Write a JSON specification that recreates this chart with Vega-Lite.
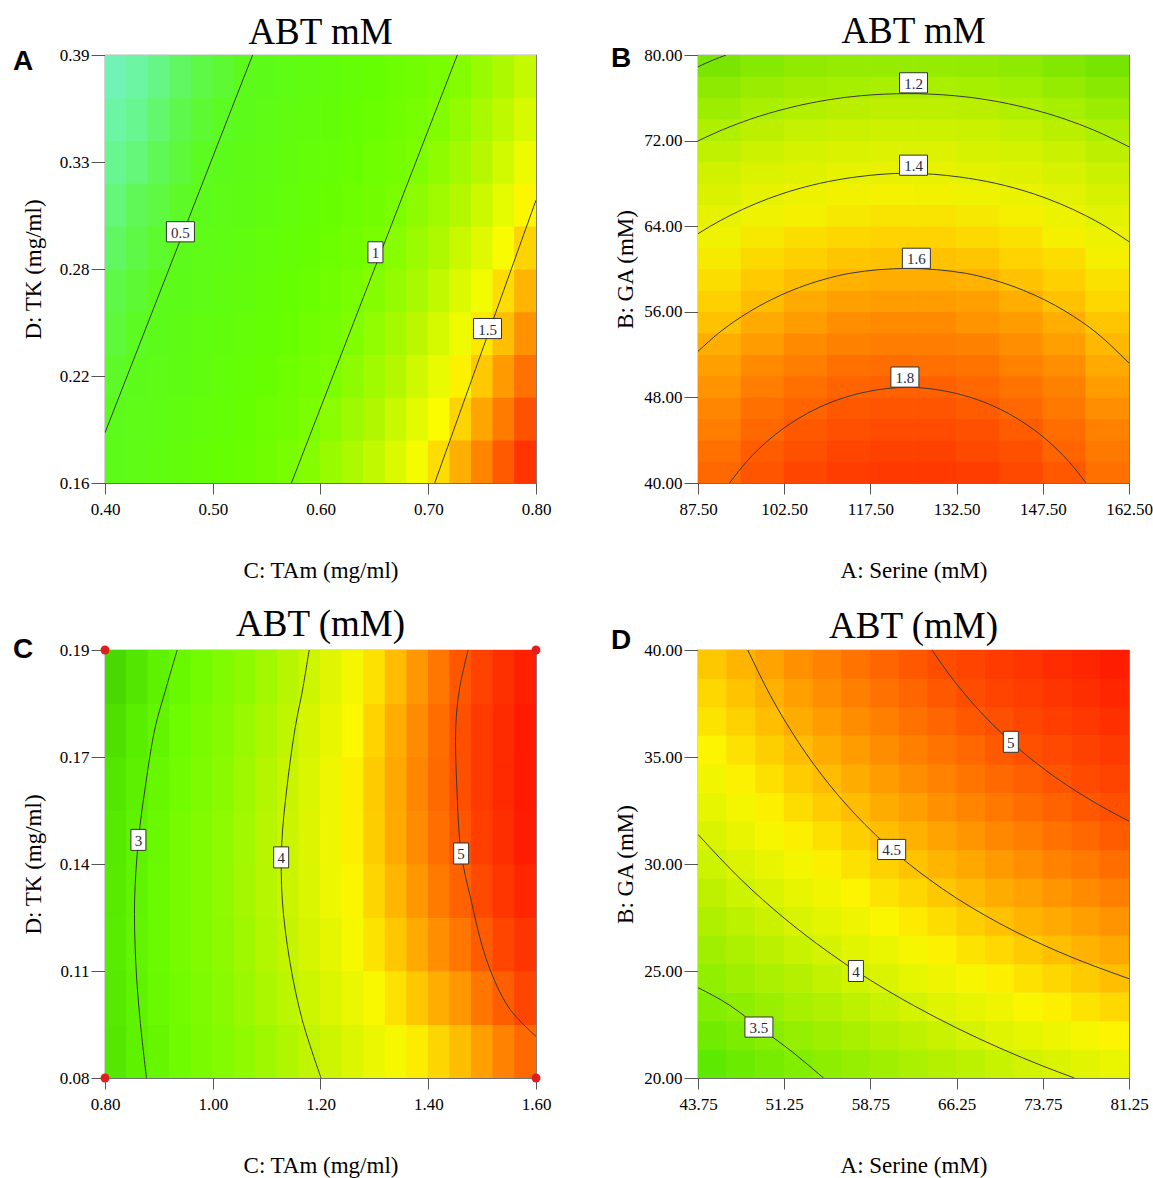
{
"$schema": "https://vega.github.io/schema/vega-lite/v6.json",
"background": "white",
"padding": {"left": 12, "top": 12, "right": 2, "bottom": 2},
"spacing": 22,
"config": {
 "view": {"stroke": "#707070", "strokeWidth": 1.2},
 "axis": {"labelFont": "Liberation Serif", "labelFontSize": 17, "labelColor": "#000", "titleFont": "Liberation Serif", "titleFontSize": 23, "titleFontWeight": "normal", "titleColor": "#000", "tickColor": "#555", "tickWidth": 1, "domain": false, "grid": false, "labelFlush": false, "labelOverlap": false},
 "title": {"font": "Liberation Serif", "fontSize": 37, "fontWeight": "normal", "color": "#000", "offset": -6, "anchor": "middle"}
},
"resolve": {"scale": {"x": "independent", "y": "independent", "color": "independent"}},
"datasets": {
 "aH": [
{"x":0.41,"y":0.1715,"z":0.54},{"x":0.43,"y":0.1715,"z":0.58},{"x":0.45,"y":0.1715,"z":0.63},{"x":0.47,"y":0.1715,"z":0.68},{"x":0.49,"y":0.1715,"z":0.73},{"x":0.51,"y":0.1715,"z":0.78},{"x":0.53,"y":0.1715,"z":0.84},{"x":0.55,"y":0.1715,"z":0.90},{"x":0.57,"y":0.1715,"z":0.96},{"x":0.59,"y":0.1715,"z":1.03},{"x":0.61,"y":0.1715,"z":1.10},{"x":0.63,"y":0.1715,"z":1.17},{"x":0.65,"y":0.1715,"z":1.24},{"x":0.67,"y":0.1715,"z":1.32},{"x":0.69,"y":0.1715,"z":1.40},{"x":0.71,"y":0.1715,"z":1.48},{"x":0.73,"y":0.1715,"z":1.57},{"x":0.75,"y":0.1715,"z":1.66},{"x":0.77,"y":0.1715,"z":1.75},{"x":0.79,"y":0.1715,"z":1.84},
{"x":0.41,"y":0.1945,"z":0.51},{"x":0.43,"y":0.1945,"z":0.55},{"x":0.45,"y":0.1945,"z":0.59},{"x":0.47,"y":0.1945,"z":0.64},{"x":0.49,"y":0.1945,"z":0.69},{"x":0.51,"y":0.1945,"z":0.74},{"x":0.53,"y":0.1945,"z":0.80},{"x":0.55,"y":0.1945,"z":0.86},{"x":0.57,"y":0.1945,"z":0.92},{"x":0.59,"y":0.1945,"z":0.98},{"x":0.61,"y":0.1945,"z":1.05},{"x":0.63,"y":0.1945,"z":1.12},{"x":0.65,"y":0.1945,"z":1.19},{"x":0.67,"y":0.1945,"z":1.26},{"x":0.69,"y":0.1945,"z":1.34},{"x":0.71,"y":0.1945,"z":1.42},{"x":0.73,"y":0.1945,"z":1.50},{"x":0.75,"y":0.1945,"z":1.59},{"x":0.77,"y":0.1945,"z":1.68},{"x":0.79,"y":0.1945,"z":1.77},
{"x":0.41,"y":0.2175,"z":0.48},{"x":0.43,"y":0.2175,"z":0.52},{"x":0.45,"y":0.2175,"z":0.56},{"x":0.47,"y":0.2175,"z":0.60},{"x":0.49,"y":0.2175,"z":0.65},{"x":0.51,"y":0.2175,"z":0.70},{"x":0.53,"y":0.2175,"z":0.75},{"x":0.55,"y":0.2175,"z":0.81},{"x":0.57,"y":0.2175,"z":0.87},{"x":0.59,"y":0.2175,"z":0.93},{"x":0.61,"y":0.2175,"z":0.99},{"x":0.63,"y":0.2175,"z":1.06},{"x":0.65,"y":0.2175,"z":1.13},{"x":0.67,"y":0.2175,"z":1.20},{"x":0.69,"y":0.2175,"z":1.28},{"x":0.71,"y":0.2175,"z":1.36},{"x":0.73,"y":0.2175,"z":1.44},{"x":0.75,"y":0.2175,"z":1.52},{"x":0.77,"y":0.2175,"z":1.61},{"x":0.79,"y":0.2175,"z":1.70},
{"x":0.41,"y":0.2405,"z":0.45},{"x":0.43,"y":0.2405,"z":0.49},{"x":0.45,"y":0.2405,"z":0.53},{"x":0.47,"y":0.2405,"z":0.57},{"x":0.49,"y":0.2405,"z":0.62},{"x":0.51,"y":0.2405,"z":0.66},{"x":0.53,"y":0.2405,"z":0.71},{"x":0.55,"y":0.2405,"z":0.77},{"x":0.57,"y":0.2405,"z":0.82},{"x":0.59,"y":0.2405,"z":0.88},{"x":0.61,"y":0.2405,"z":0.94},{"x":0.63,"y":0.2405,"z":1.01},{"x":0.65,"y":0.2405,"z":1.08},{"x":0.67,"y":0.2405,"z":1.15},{"x":0.69,"y":0.2405,"z":1.22},{"x":0.71,"y":0.2405,"z":1.30},{"x":0.73,"y":0.2405,"z":1.38},{"x":0.75,"y":0.2405,"z":1.46},{"x":0.77,"y":0.2405,"z":1.54},{"x":0.79,"y":0.2405,"z":1.63},
{"x":0.41,"y":0.2635,"z":0.43},{"x":0.43,"y":0.2635,"z":0.46},{"x":0.45,"y":0.2635,"z":0.50},{"x":0.47,"y":0.2635,"z":0.54},{"x":0.49,"y":0.2635,"z":0.58},{"x":0.51,"y":0.2635,"z":0.63},{"x":0.53,"y":0.2635,"z":0.67},{"x":0.55,"y":0.2635,"z":0.73},{"x":0.57,"y":0.2635,"z":0.78},{"x":0.59,"y":0.2635,"z":0.84},{"x":0.61,"y":0.2635,"z":0.90},{"x":0.63,"y":0.2635,"z":0.96},{"x":0.65,"y":0.2635,"z":1.03},{"x":0.67,"y":0.2635,"z":1.09},{"x":0.69,"y":0.2635,"z":1.16},{"x":0.71,"y":0.2635,"z":1.24},{"x":0.73,"y":0.2635,"z":1.32},{"x":0.75,"y":0.2635,"z":1.39},{"x":0.77,"y":0.2635,"z":1.48},{"x":0.79,"y":0.2635,"z":1.56},
{"x":0.41,"y":0.2865,"z":0.40},{"x":0.43,"y":0.2865,"z":0.43},{"x":0.45,"y":0.2865,"z":0.47},{"x":0.47,"y":0.2865,"z":0.51},{"x":0.49,"y":0.2865,"z":0.55},{"x":0.51,"y":0.2865,"z":0.59},{"x":0.53,"y":0.2865,"z":0.64},{"x":0.55,"y":0.2865,"z":0.69},{"x":0.57,"y":0.2865,"z":0.74},{"x":0.59,"y":0.2865,"z":0.79},{"x":0.61,"y":0.2865,"z":0.85},{"x":0.63,"y":0.2865,"z":0.91},{"x":0.65,"y":0.2865,"z":0.97},{"x":0.67,"y":0.2865,"z":1.04},{"x":0.69,"y":0.2865,"z":1.11},{"x":0.71,"y":0.2865,"z":1.18},{"x":0.73,"y":0.2865,"z":1.26},{"x":0.75,"y":0.2865,"z":1.33},{"x":0.77,"y":0.2865,"z":1.41},{"x":0.79,"y":0.2865,"z":1.50},
{"x":0.41,"y":0.3095,"z":0.38},{"x":0.43,"y":0.3095,"z":0.41},{"x":0.45,"y":0.3095,"z":0.44},{"x":0.47,"y":0.3095,"z":0.48},{"x":0.49,"y":0.3095,"z":0.51},{"x":0.51,"y":0.3095,"z":0.56},{"x":0.53,"y":0.3095,"z":0.60},{"x":0.55,"y":0.3095,"z":0.65},{"x":0.57,"y":0.3095,"z":0.70},{"x":0.59,"y":0.3095,"z":0.75},{"x":0.61,"y":0.3095,"z":0.81},{"x":0.63,"y":0.3095,"z":0.86},{"x":0.65,"y":0.3095,"z":0.92},{"x":0.67,"y":0.3095,"z":0.99},{"x":0.69,"y":0.3095,"z":1.06},{"x":0.71,"y":0.3095,"z":1.13},{"x":0.73,"y":0.3095,"z":1.20},{"x":0.75,"y":0.3095,"z":1.27},{"x":0.77,"y":0.3095,"z":1.35},{"x":0.79,"y":0.3095,"z":1.43},
{"x":0.41,"y":0.3325,"z":0.36},{"x":0.43,"y":0.3325,"z":0.38},{"x":0.45,"y":0.3325,"z":0.41},{"x":0.47,"y":0.3325,"z":0.45},{"x":0.49,"y":0.3325,"z":0.49},{"x":0.51,"y":0.3325,"z":0.52},{"x":0.53,"y":0.3325,"z":0.57},{"x":0.55,"y":0.3325,"z":0.61},{"x":0.57,"y":0.3325,"z":0.66},{"x":0.59,"y":0.3325,"z":0.71},{"x":0.61,"y":0.3325,"z":0.76},{"x":0.63,"y":0.3325,"z":0.82},{"x":0.65,"y":0.3325,"z":0.88},{"x":0.67,"y":0.3325,"z":0.94},{"x":0.69,"y":0.3325,"z":1.00},{"x":0.71,"y":0.3325,"z":1.07},{"x":0.73,"y":0.3325,"z":1.14},{"x":0.75,"y":0.3325,"z":1.21},{"x":0.77,"y":0.3325,"z":1.29},{"x":0.79,"y":0.3325,"z":1.37},
{"x":0.41,"y":0.3555,"z":0.34},{"x":0.43,"y":0.3555,"z":0.36},{"x":0.45,"y":0.3555,"z":0.39},{"x":0.47,"y":0.3555,"z":0.42},{"x":0.49,"y":0.3555,"z":0.46},{"x":0.51,"y":0.3555,"z":0.49},{"x":0.53,"y":0.3555,"z":0.53},{"x":0.55,"y":0.3555,"z":0.58},{"x":0.57,"y":0.3555,"z":0.62},{"x":0.59,"y":0.3555,"z":0.67},{"x":0.61,"y":0.3555,"z":0.72},{"x":0.63,"y":0.3555,"z":0.78},{"x":0.65,"y":0.3555,"z":0.83},{"x":0.67,"y":0.3555,"z":0.89},{"x":0.69,"y":0.3555,"z":0.95},{"x":0.71,"y":0.3555,"z":1.02},{"x":0.73,"y":0.3555,"z":1.09},{"x":0.75,"y":0.3555,"z":1.16},{"x":0.77,"y":0.3555,"z":1.23},{"x":0.79,"y":0.3555,"z":1.31},
{"x":0.41,"y":0.3785,"z":0.32},{"x":0.43,"y":0.3785,"z":0.34},{"x":0.45,"y":0.3785,"z":0.37},{"x":0.47,"y":0.3785,"z":0.40},{"x":0.49,"y":0.3785,"z":0.43},{"x":0.51,"y":0.3785,"z":0.46},{"x":0.53,"y":0.3785,"z":0.50},{"x":0.55,"y":0.3785,"z":0.54},{"x":0.57,"y":0.3785,"z":0.59},{"x":0.59,"y":0.3785,"z":0.63},{"x":0.61,"y":0.3785,"z":0.68},{"x":0.63,"y":0.3785,"z":0.73},{"x":0.65,"y":0.3785,"z":0.79},{"x":0.67,"y":0.3785,"z":0.85},{"x":0.69,"y":0.3785,"z":0.91},{"x":0.71,"y":0.3785,"z":0.97},{"x":0.73,"y":0.3785,"z":1.03},{"x":0.75,"y":0.3785,"z":1.10},{"x":0.77,"y":0.3785,"z":1.17},{"x":0.79,"y":0.3785,"z":1.25}
 ],
 "aL": [
{"c":0.5,"x":0.4,"y":0.187},{"c":0.5,"x":0.537,"y":0.39},
{"c":1,"x":0.573,"y":0.16},{"c":1,"x":0.727,"y":0.39},
{"c":1.5,"x":0.706,"y":0.16},{"c":1.5,"x":0.8,"y":0.312}
 ],
 "aT": [
{"t":"0.5","x":0.47,"y":0.295},{"t":"1","x":0.651,"y":0.284},{"t":"1.5","x":0.755,"y":0.243}
 ],
 "aP": [
{"p":"A","x":0.324,"y":0.386}
 ],
 "bH": [
{"x":91.25,"y":41,"z":1.78},{"x":98.75,"y":41,"z":1.83},{"x":106.25,"y":41,"z":1.87},{"x":113.75,"y":41,"z":1.89},{"x":121.25,"y":41,"z":1.90},{"x":128.75,"y":41,"z":1.90},{"x":136.25,"y":41,"z":1.89},{"x":143.75,"y":41,"z":1.86},{"x":151.25,"y":41,"z":1.82},{"x":158.75,"y":41,"z":1.76},
{"x":91.25,"y":43,"z":1.76},{"x":98.75,"y":43,"z":1.81},{"x":106.25,"y":43,"z":1.84},{"x":113.75,"y":43,"z":1.87},{"x":121.25,"y":43,"z":1.88},{"x":128.75,"y":43,"z":1.88},{"x":136.25,"y":43,"z":1.86},{"x":143.75,"y":43,"z":1.84},{"x":151.25,"y":43,"z":1.79},{"x":158.75,"y":43,"z":1.74},
{"x":91.25,"y":45,"z":1.73},{"x":98.75,"y":45,"z":1.78},{"x":106.25,"y":45,"z":1.82},{"x":113.75,"y":45,"z":1.84},{"x":121.25,"y":45,"z":1.85},{"x":128.75,"y":45,"z":1.85},{"x":136.25,"y":45,"z":1.84},{"x":143.75,"y":45,"z":1.81},{"x":151.25,"y":45,"z":1.77},{"x":158.75,"y":45,"z":1.72},
{"x":91.25,"y":47,"z":1.71},{"x":98.75,"y":47,"z":1.76},{"x":106.25,"y":47,"z":1.79},{"x":113.75,"y":47,"z":1.82},{"x":121.25,"y":47,"z":1.83},{"x":128.75,"y":47,"z":1.83},{"x":136.25,"y":47,"z":1.81},{"x":143.75,"y":47,"z":1.78},{"x":151.25,"y":47,"z":1.74},{"x":158.75,"y":47,"z":1.69},
{"x":91.25,"y":49,"z":1.68},{"x":98.75,"y":49,"z":1.73},{"x":106.25,"y":49,"z":1.76},{"x":113.75,"y":49,"z":1.79},{"x":121.25,"y":49,"z":1.80},{"x":128.75,"y":49,"z":1.80},{"x":136.25,"y":49,"z":1.78},{"x":143.75,"y":49,"z":1.75},{"x":151.25,"y":49,"z":1.72},{"x":158.75,"y":49,"z":1.66},
{"x":91.25,"y":51,"z":1.65},{"x":98.75,"y":51,"z":1.70},{"x":106.25,"y":51,"z":1.73},{"x":113.75,"y":51,"z":1.76},{"x":121.25,"y":51,"z":1.77},{"x":128.75,"y":51,"z":1.76},{"x":136.25,"y":51,"z":1.75},{"x":143.75,"y":51,"z":1.72},{"x":151.25,"y":51,"z":1.69},{"x":158.75,"y":51,"z":1.63},
{"x":91.25,"y":53,"z":1.62},{"x":98.75,"y":53,"z":1.66},{"x":106.25,"y":53,"z":1.70},{"x":113.75,"y":53,"z":1.72},{"x":121.25,"y":53,"z":1.73},{"x":128.75,"y":53,"z":1.73},{"x":136.25,"y":53,"z":1.72},{"x":143.75,"y":53,"z":1.69},{"x":151.25,"y":53,"z":1.65},{"x":158.75,"y":53,"z":1.60},
{"x":91.25,"y":55,"z":1.58},{"x":98.75,"y":55,"z":1.63},{"x":106.25,"y":55,"z":1.66},{"x":113.75,"y":55,"z":1.69},{"x":121.25,"y":55,"z":1.70},{"x":128.75,"y":55,"z":1.70},{"x":136.25,"y":55,"z":1.68},{"x":143.75,"y":55,"z":1.66},{"x":151.25,"y":55,"z":1.62},{"x":158.75,"y":55,"z":1.57},
{"x":91.25,"y":57,"z":1.55},{"x":98.75,"y":57,"z":1.59},{"x":106.25,"y":57,"z":1.63},{"x":113.75,"y":57,"z":1.65},{"x":121.25,"y":57,"z":1.66},{"x":128.75,"y":57,"z":1.66},{"x":136.25,"y":57,"z":1.65},{"x":143.75,"y":57,"z":1.62},{"x":151.25,"y":57,"z":1.58},{"x":158.75,"y":57,"z":1.53},
{"x":91.25,"y":59,"z":1.51},{"x":98.75,"y":59,"z":1.56},{"x":106.25,"y":59,"z":1.59},{"x":113.75,"y":59,"z":1.61},{"x":121.25,"y":59,"z":1.62},{"x":128.75,"y":59,"z":1.62},{"x":136.25,"y":59,"z":1.61},{"x":143.75,"y":59,"z":1.58},{"x":151.25,"y":59,"z":1.55},{"x":158.75,"y":59,"z":1.50},
{"x":91.25,"y":61,"z":1.47},{"x":98.75,"y":61,"z":1.52},{"x":106.25,"y":61,"z":1.55},{"x":113.75,"y":61,"z":1.57},{"x":121.25,"y":61,"z":1.58},{"x":128.75,"y":61,"z":1.58},{"x":136.25,"y":61,"z":1.57},{"x":143.75,"y":61,"z":1.54},{"x":151.25,"y":61,"z":1.51},{"x":158.75,"y":61,"z":1.46},
{"x":91.25,"y":63,"z":1.43},{"x":98.75,"y":63,"z":1.48},{"x":106.25,"y":63,"z":1.51},{"x":113.75,"y":63,"z":1.53},{"x":121.25,"y":63,"z":1.54},{"x":128.75,"y":63,"z":1.54},{"x":136.25,"y":63,"z":1.52},{"x":143.75,"y":63,"z":1.50},{"x":151.25,"y":63,"z":1.46},{"x":158.75,"y":63,"z":1.42},
{"x":91.25,"y":65,"z":1.39},{"x":98.75,"y":65,"z":1.43},{"x":106.25,"y":65,"z":1.46},{"x":113.75,"y":65,"z":1.48},{"x":121.25,"y":65,"z":1.49},{"x":128.75,"y":65,"z":1.49},{"x":136.25,"y":65,"z":1.48},{"x":143.75,"y":65,"z":1.46},{"x":151.25,"y":65,"z":1.42},{"x":158.75,"y":65,"z":1.38},
{"x":91.25,"y":67,"z":1.34},{"x":98.75,"y":67,"z":1.39},{"x":106.25,"y":67,"z":1.42},{"x":113.75,"y":67,"z":1.44},{"x":121.25,"y":67,"z":1.45},{"x":128.75,"y":67,"z":1.44},{"x":136.25,"y":67,"z":1.43},{"x":143.75,"y":67,"z":1.41},{"x":151.25,"y":67,"z":1.38},{"x":158.75,"y":67,"z":1.33},
{"x":91.25,"y":69,"z":1.30},{"x":98.75,"y":69,"z":1.34},{"x":106.25,"y":69,"z":1.37},{"x":113.75,"y":69,"z":1.39},{"x":121.25,"y":69,"z":1.40},{"x":128.75,"y":69,"z":1.40},{"x":136.25,"y":69,"z":1.38},{"x":143.75,"y":69,"z":1.36},{"x":151.25,"y":69,"z":1.33},{"x":158.75,"y":69,"z":1.28},
{"x":91.25,"y":71,"z":1.25},{"x":98.75,"y":71,"z":1.29},{"x":106.25,"y":71,"z":1.32},{"x":113.75,"y":71,"z":1.34},{"x":121.25,"y":71,"z":1.35},{"x":128.75,"y":71,"z":1.35},{"x":136.25,"y":71,"z":1.33},{"x":143.75,"y":71,"z":1.31},{"x":151.25,"y":71,"z":1.28},{"x":158.75,"y":71,"z":1.24},
{"x":91.25,"y":73,"z":1.20},{"x":98.75,"y":73,"z":1.24},{"x":106.25,"y":73,"z":1.27},{"x":113.75,"y":73,"z":1.28},{"x":121.25,"y":73,"z":1.29},{"x":128.75,"y":73,"z":1.29},{"x":136.25,"y":73,"z":1.28},{"x":143.75,"y":73,"z":1.26},{"x":151.25,"y":73,"z":1.23},{"x":158.75,"y":73,"z":1.19},
{"x":91.25,"y":75,"z":1.14},{"x":98.75,"y":75,"z":1.18},{"x":106.25,"y":75,"z":1.21},{"x":113.75,"y":75,"z":1.23},{"x":121.25,"y":75,"z":1.24},{"x":128.75,"y":75,"z":1.24},{"x":136.25,"y":75,"z":1.23},{"x":143.75,"y":75,"z":1.20},{"x":151.25,"y":75,"z":1.17},{"x":158.75,"y":75,"z":1.13},
{"x":91.25,"y":77,"z":1.09},{"x":98.75,"y":77,"z":1.13},{"x":106.25,"y":77,"z":1.16},{"x":113.75,"y":77,"z":1.17},{"x":121.25,"y":77,"z":1.18},{"x":128.75,"y":77,"z":1.18},{"x":136.25,"y":77,"z":1.17},{"x":143.75,"y":77,"z":1.15},{"x":151.25,"y":77,"z":1.12},{"x":158.75,"y":77,"z":1.08},
{"x":91.25,"y":79,"z":1.03},{"x":98.75,"y":79,"z":1.07},{"x":106.25,"y":79,"z":1.10},{"x":113.75,"y":79,"z":1.12},{"x":121.25,"y":79,"z":1.12},{"x":128.75,"y":79,"z":1.12},{"x":136.25,"y":79,"z":1.11},{"x":143.75,"y":79,"z":1.09},{"x":151.25,"y":79,"z":1.06},{"x":158.75,"y":79,"z":1.02}
 ],
 "bL": [
{"c":1.8,"x":92.98,"y":40},{"c":1.8,"x":95.96,"y":42},{"c":1.8,"x":99.76,"y":44},{"c":1.8,"x":104.88,"y":46},{"c":1.8,"x":108.33,"y":47},{"c":1.8,"x":113.06,"y":48},{"c":1.8,"x":116.63,"y":48.5},{"c":1.8,"x":124,"y":48.94},{"c":1.8,"x":131.37,"y":48.5},{"c":1.8,"x":134.94,"y":48},{"c":1.8,"x":139.67,"y":47},{"c":1.8,"x":143.12,"y":46},{"c":1.8,"x":148.24,"y":44},{"c":1.8,"x":152.04,"y":42},{"c":1.8,"x":155.02,"y":40},
{"c":1.6,"x":87.5,"y":52.3},{"c":1.6,"x":91.07,"y":54},{"c":1.6,"x":96.42,"y":56},{"c":1.6,"x":103.84,"y":58},{"c":1.6,"x":109.25,"y":59},{"c":1.6,"x":113.97,"y":59.6},{"c":1.6,"x":124,"y":60.05},{"c":1.6,"x":134.03,"y":59.6},{"c":1.6,"x":138.75,"y":59},{"c":1.6,"x":144.16,"y":58},{"c":1.6,"x":151.58,"y":56},{"c":1.6,"x":156.93,"y":54},{"c":1.6,"x":162.5,"y":51.2},
{"c":1.4,"x":87.5,"y":63.3},{"c":1.4,"x":89.65,"y":64},{"c":1.4,"x":93.07,"y":65},{"c":1.4,"x":101.96,"y":67},{"c":1.4,"x":108.66,"y":68},{"c":1.4,"x":115.02,"y":68.6},{"c":1.4,"x":124,"y":68.95},{"c":1.4,"x":132.98,"y":68.6},{"c":1.4,"x":139.34,"y":68},{"c":1.4,"x":146.04,"y":67},{"c":1.4,"x":154.93,"y":65},{"c":1.4,"x":158.35,"y":64},{"c":1.4,"x":162.5,"y":62.55},
{"c":1.2,"x":87.5,"y":71.97},{"c":1.2,"x":91.7,"y":73},{"c":1.2,"x":96.6,"y":74},{"c":1.2,"x":102.9,"y":75},{"c":1.2,"x":110.04,"y":75.8},{"c":1.2,"x":115.93,"y":76.2},{"c":1.2,"x":124,"y":76.39},{"c":1.2,"x":132.07,"y":76.2},{"c":1.2,"x":137.96,"y":75.8},{"c":1.2,"x":145.1,"y":75},{"c":1.2,"x":151.4,"y":74},{"c":1.2,"x":156.3,"y":73},{"c":1.2,"x":162.5,"y":71.42},
{"c":1.0,"x":87.5,"y":78.9},{"c":1.0,"x":90,"y":79.5},{"c":1.0,"x":92.4,"y":80}
 ],
 "bT": [
{"t":"1.2","x":125,"y":77.4},{"t":"1.4","x":125,"y":69.7},{"t":"1.6","x":125.5,"y":61.0},{"t":"1.8","x":123.5,"y":49.9}
 ],
 "bP": [
{"p":"B","x":74.1,"y":79.6}
 ],
 "cH": [
{"x":0.82,"y":0.0869,"z":2.81},{"x":0.82,"y":0.1006,"z":2.85},{"x":0.82,"y":0.1144,"z":2.87},{"x":0.82,"y":0.1281,"z":2.86},{"x":0.82,"y":0.1419,"z":2.84},{"x":0.82,"y":0.1556,"z":2.79},{"x":0.82,"y":0.1694,"z":2.71},{"x":0.82,"y":0.1831,"z":2.62},
{"x":0.86,"y":0.0869,"z":2.96},{"x":0.86,"y":0.1006,"z":3.00},{"x":0.86,"y":0.1144,"z":3.03},{"x":0.86,"y":0.1281,"z":3.02},{"x":0.86,"y":0.1419,"z":3.00},{"x":0.86,"y":0.1556,"z":2.95},{"x":0.86,"y":0.1694,"z":2.88},{"x":0.86,"y":0.1831,"z":2.79},
{"x":0.90,"y":0.0869,"z":3.10},{"x":0.90,"y":0.1006,"z":3.15},{"x":0.90,"y":0.1144,"z":3.18},{"x":0.90,"y":0.1281,"z":3.18},{"x":0.90,"y":0.1419,"z":3.16},{"x":0.90,"y":0.1556,"z":3.12},{"x":0.90,"y":0.1694,"z":3.05},{"x":0.90,"y":0.1831,"z":2.96},
{"x":0.94,"y":0.0869,"z":3.24},{"x":0.94,"y":0.1006,"z":3.29},{"x":0.94,"y":0.1144,"z":3.32},{"x":0.94,"y":0.1281,"z":3.33},{"x":0.94,"y":0.1419,"z":3.32},{"x":0.94,"y":0.1556,"z":3.28},{"x":0.94,"y":0.1694,"z":3.21},{"x":0.94,"y":0.1831,"z":3.13},
{"x":0.98,"y":0.0869,"z":3.37},{"x":0.98,"y":0.1006,"z":3.43},{"x":0.98,"y":0.1144,"z":3.47},{"x":0.98,"y":0.1281,"z":3.48},{"x":0.98,"y":0.1419,"z":3.47},{"x":0.98,"y":0.1556,"z":3.43},{"x":0.98,"y":0.1694,"z":3.37},{"x":0.98,"y":0.1831,"z":3.29},
{"x":1.02,"y":0.0869,"z":3.50},{"x":1.02,"y":0.1006,"z":3.57},{"x":1.02,"y":0.1144,"z":3.61},{"x":1.02,"y":0.1281,"z":3.63},{"x":1.02,"y":0.1419,"z":3.62},{"x":1.02,"y":0.1556,"z":3.59},{"x":1.02,"y":0.1694,"z":3.53},{"x":1.02,"y":0.1831,"z":3.45},
{"x":1.06,"y":0.0869,"z":3.62},{"x":1.06,"y":0.1006,"z":3.70},{"x":1.06,"y":0.1144,"z":3.74},{"x":1.06,"y":0.1281,"z":3.77},{"x":1.06,"y":0.1419,"z":3.76},{"x":1.06,"y":0.1556,"z":3.74},{"x":1.06,"y":0.1694,"z":3.69},{"x":1.06,"y":0.1831,"z":3.61},
{"x":1.10,"y":0.0869,"z":3.74},{"x":1.10,"y":0.1006,"z":3.82},{"x":1.10,"y":0.1144,"z":3.87},{"x":1.10,"y":0.1281,"z":3.90},{"x":1.10,"y":0.1419,"z":3.91},{"x":1.10,"y":0.1556,"z":3.88},{"x":1.10,"y":0.1694,"z":3.83},{"x":1.10,"y":0.1831,"z":3.76},
{"x":1.14,"y":0.0869,"z":3.86},{"x":1.14,"y":0.1006,"z":3.94},{"x":1.14,"y":0.1144,"z":4.00},{"x":1.14,"y":0.1281,"z":4.04},{"x":1.14,"y":0.1419,"z":4.04},{"x":1.14,"y":0.1556,"z":4.03},{"x":1.14,"y":0.1694,"z":3.98},{"x":1.14,"y":0.1831,"z":3.91},
{"x":1.18,"y":0.0869,"z":3.97},{"x":1.18,"y":0.1006,"z":4.06},{"x":1.18,"y":0.1144,"z":4.12},{"x":1.18,"y":0.1281,"z":4.16},{"x":1.18,"y":0.1419,"z":4.18},{"x":1.18,"y":0.1556,"z":4.16},{"x":1.18,"y":0.1694,"z":4.12},{"x":1.18,"y":0.1831,"z":4.06},
{"x":1.22,"y":0.0869,"z":4.07},{"x":1.22,"y":0.1006,"z":4.17},{"x":1.22,"y":0.1144,"z":4.24},{"x":1.22,"y":0.1281,"z":4.29},{"x":1.22,"y":0.1419,"z":4.31},{"x":1.22,"y":0.1556,"z":4.30},{"x":1.22,"y":0.1694,"z":4.26},{"x":1.22,"y":0.1831,"z":4.20},
{"x":1.26,"y":0.0869,"z":4.17},{"x":1.26,"y":0.1006,"z":4.28},{"x":1.26,"y":0.1144,"z":4.36},{"x":1.26,"y":0.1281,"z":4.41},{"x":1.26,"y":0.1419,"z":4.43},{"x":1.26,"y":0.1556,"z":4.43},{"x":1.26,"y":0.1694,"z":4.40},{"x":1.26,"y":0.1831,"z":4.34},
{"x":1.30,"y":0.0869,"z":4.27},{"x":1.30,"y":0.1006,"z":4.38},{"x":1.30,"y":0.1144,"z":4.47},{"x":1.30,"y":0.1281,"z":4.52},{"x":1.30,"y":0.1419,"z":4.55},{"x":1.30,"y":0.1556,"z":4.56},{"x":1.30,"y":0.1694,"z":4.53},{"x":1.30,"y":0.1831,"z":4.48},
{"x":1.34,"y":0.0869,"z":4.36},{"x":1.34,"y":0.1006,"z":4.48},{"x":1.34,"y":0.1144,"z":4.57},{"x":1.34,"y":0.1281,"z":4.63},{"x":1.34,"y":0.1419,"z":4.67},{"x":1.34,"y":0.1556,"z":4.68},{"x":1.34,"y":0.1694,"z":4.66},{"x":1.34,"y":0.1831,"z":4.61},
{"x":1.38,"y":0.0869,"z":4.44},{"x":1.38,"y":0.1006,"z":4.57},{"x":1.38,"y":0.1144,"z":4.67},{"x":1.38,"y":0.1281,"z":4.74},{"x":1.38,"y":0.1419,"z":4.78},{"x":1.38,"y":0.1556,"z":4.80},{"x":1.38,"y":0.1694,"z":4.78},{"x":1.38,"y":0.1831,"z":4.74},
{"x":1.42,"y":0.0869,"z":4.52},{"x":1.42,"y":0.1006,"z":4.66},{"x":1.42,"y":0.1144,"z":4.77},{"x":1.42,"y":0.1281,"z":4.84},{"x":1.42,"y":0.1419,"z":4.89},{"x":1.42,"y":0.1556,"z":4.91},{"x":1.42,"y":0.1694,"z":4.90},{"x":1.42,"y":0.1831,"z":4.86},
{"x":1.46,"y":0.0869,"z":4.60},{"x":1.46,"y":0.1006,"z":4.74},{"x":1.46,"y":0.1144,"z":4.86},{"x":1.46,"y":0.1281,"z":4.94},{"x":1.46,"y":0.1419,"z":5.00},{"x":1.46,"y":0.1556,"z":5.02},{"x":1.46,"y":0.1694,"z":5.02},{"x":1.46,"y":0.1831,"z":4.99},
{"x":1.50,"y":0.0869,"z":4.71},{"x":1.50,"y":0.1006,"z":4.86},{"x":1.50,"y":0.1144,"z":4.97},{"x":1.50,"y":0.1281,"z":5.05},{"x":1.50,"y":0.1419,"z":5.11},{"x":1.50,"y":0.1556,"z":5.13},{"x":1.50,"y":0.1694,"z":5.13},{"x":1.50,"y":0.1831,"z":5.09},
{"x":1.54,"y":0.0869,"z":4.81},{"x":1.54,"y":0.1006,"z":4.96},{"x":1.54,"y":0.1144,"z":5.07},{"x":1.54,"y":0.1281,"z":5.16},{"x":1.54,"y":0.1419,"z":5.21},{"x":1.54,"y":0.1556,"z":5.24},{"x":1.54,"y":0.1694,"z":5.23},{"x":1.54,"y":0.1831,"z":5.20},
{"x":1.58,"y":0.0869,"z":4.91},{"x":1.58,"y":0.1006,"z":5.06},{"x":1.58,"y":0.1144,"z":5.17},{"x":1.58,"y":0.1281,"z":5.26},{"x":1.58,"y":0.1419,"z":5.32},{"x":1.58,"y":0.1556,"z":5.34},{"x":1.58,"y":0.1694,"z":5.34},{"x":1.58,"y":0.1831,"z":5.30}
 ],
 "cL": [
{"c":3,"k":0,"x":0.934,"y":0.19},{"c":3,"k":1,"x":0.913,"y":0.18},{"c":3,"k":2,"x":0.893,"y":0.17},{"c":3,"k":3,"x":0.875,"y":0.155},{"c":3,"k":4,"x":0.862,"y":0.141},{"c":3,"k":5,"x":0.855,"y":0.126},{"c":3,"k":6,"x":0.857,"y":0.11},{"c":3,"k":7,"x":0.865,"y":0.095},{"c":3,"k":8,"x":0.877,"y":0.08},
{"c":4,"k":0,"x":1.179,"y":0.19},{"c":4,"k":1,"x":1.167,"y":0.18},{"c":4,"k":2,"x":1.153,"y":0.17},{"c":4,"k":3,"x":1.138,"y":0.155},{"c":4,"k":4,"x":1.128,"y":0.14},{"c":4,"k":5,"x":1.129,"y":0.126},{"c":4,"k":6,"x":1.143,"y":0.11},{"c":4,"k":7,"x":1.166,"y":0.095},{"c":4,"k":8,"x":1.201,"y":0.08},
{"c":5,"k":0,"x":1.474,"y":0.19},{"c":5,"k":1,"x":1.458,"y":0.18},{"c":5,"k":2,"x":1.451,"y":0.17},{"c":5,"k":3,"x":1.453,"y":0.155},{"c":5,"k":4,"x":1.461,"y":0.138},{"c":5,"k":5,"x":1.479,"y":0.126},{"c":5,"k":6,"x":1.509,"y":0.11},{"c":5,"k":7,"x":1.55,"y":0.098},{"c":5,"k":8,"x":1.6,"y":0.0907}
 ],
 "cT": [
{"t":"3","x":0.862,"y":0.1412},{"t":"4","x":1.127,"y":0.1367},{"t":"5","x":1.461,"y":0.1377}
 ],
 "cP": [
{"x":0.8,"y":0.19},{"x":1.6,"y":0.19},{"x":0.8,"y":0.08},{"x":1.6,"y":0.08}
 ],
 "cLet": [
{"p":"C","x":0.648,"y":0.19}
 ],
 "dH": [
{"x":45.0,"y":20.67,"z":3.24},{"x":47.5,"y":20.67,"z":3.33},{"x":50.0,"y":20.67,"z":3.41},{"x":52.5,"y":20.67,"z":3.48},{"x":55.0,"y":20.67,"z":3.56},{"x":57.5,"y":20.67,"z":3.63},{"x":60.0,"y":20.67,"z":3.69},{"x":62.5,"y":20.67,"z":3.76},{"x":65.0,"y":20.67,"z":3.82},{"x":67.5,"y":20.67,"z":3.87},{"x":70.0,"y":20.67,"z":3.93},{"x":72.5,"y":20.67,"z":3.99},{"x":75.0,"y":20.67,"z":4.04},{"x":77.5,"y":20.67,"z":4.09},{"x":80.0,"y":20.67,"z":4.14},
{"x":45.0,"y":22.0,"z":3.37},{"x":47.5,"y":22.0,"z":3.45},{"x":50.0,"y":22.0,"z":3.53},{"x":52.5,"y":22.0,"z":3.61},{"x":55.0,"y":22.0,"z":3.68},{"x":57.5,"y":22.0,"z":3.75},{"x":60.0,"y":22.0,"z":3.82},{"x":62.5,"y":22.0,"z":3.88},{"x":65.0,"y":22.0,"z":3.94},{"x":67.5,"y":22.0,"z":4.00},{"x":70.0,"y":22.0,"z":4.06},{"x":72.5,"y":22.0,"z":4.11},{"x":75.0,"y":22.0,"z":4.16},{"x":77.5,"y":22.0,"z":4.21},{"x":80.0,"y":22.0,"z":4.26},
{"x":45.0,"y":23.33,"z":3.49},{"x":47.5,"y":23.33,"z":3.57},{"x":50.0,"y":23.33,"z":3.65},{"x":52.5,"y":23.33,"z":3.73},{"x":55.0,"y":23.33,"z":3.80},{"x":57.5,"y":23.33,"z":3.87},{"x":60.0,"y":23.33,"z":3.93},{"x":62.5,"y":23.33,"z":4.00},{"x":65.0,"y":23.33,"z":4.06},{"x":67.5,"y":23.33,"z":4.12},{"x":70.0,"y":23.33,"z":4.17},{"x":72.5,"y":23.33,"z":4.23},{"x":75.0,"y":23.33,"z":4.28},{"x":77.5,"y":23.33,"z":4.33},{"x":80.0,"y":23.33,"z":4.38},
{"x":45.0,"y":24.67,"z":3.59},{"x":47.5,"y":24.67,"z":3.68},{"x":50.0,"y":24.67,"z":3.76},{"x":52.5,"y":24.67,"z":3.83},{"x":55.0,"y":24.67,"z":3.91},{"x":57.5,"y":24.67,"z":3.98},{"x":60.0,"y":24.67,"z":4.04},{"x":62.5,"y":24.67,"z":4.11},{"x":65.0,"y":24.67,"z":4.17},{"x":67.5,"y":24.67,"z":4.22},{"x":70.0,"y":24.67,"z":4.28},{"x":72.5,"y":24.67,"z":4.34},{"x":75.0,"y":24.67,"z":4.39},{"x":77.5,"y":24.67,"z":4.44},{"x":80.0,"y":24.67,"z":4.49},
{"x":45.0,"y":26.0,"z":3.69},{"x":47.5,"y":26.0,"z":3.78},{"x":50.0,"y":26.0,"z":3.86},{"x":52.5,"y":26.0,"z":3.93},{"x":55.0,"y":26.0,"z":4.01},{"x":57.5,"y":26.0,"z":4.08},{"x":60.0,"y":26.0,"z":4.14},{"x":62.5,"y":26.0,"z":4.21},{"x":65.0,"y":26.0,"z":4.27},{"x":67.5,"y":26.0,"z":4.33},{"x":70.0,"y":26.0,"z":4.38},{"x":72.5,"y":26.0,"z":4.44},{"x":75.0,"y":26.0,"z":4.49},{"x":77.5,"y":26.0,"z":4.54},{"x":80.0,"y":26.0,"z":4.59},
{"x":45.0,"y":27.33,"z":3.79},{"x":47.5,"y":27.33,"z":3.87},{"x":50.0,"y":27.33,"z":3.95},{"x":52.5,"y":27.33,"z":4.03},{"x":55.0,"y":27.33,"z":4.10},{"x":57.5,"y":27.33,"z":4.17},{"x":60.0,"y":27.33,"z":4.24},{"x":62.5,"y":27.33,"z":4.30},{"x":65.0,"y":27.33,"z":4.36},{"x":67.5,"y":27.33,"z":4.42},{"x":70.0,"y":27.33,"z":4.48},{"x":72.5,"y":27.33,"z":4.53},{"x":75.0,"y":27.33,"z":4.58},{"x":77.5,"y":27.33,"z":4.63},{"x":80.0,"y":27.33,"z":4.68},
{"x":45.0,"y":28.67,"z":3.88},{"x":47.5,"y":28.67,"z":3.96},{"x":50.0,"y":28.67,"z":4.04},{"x":52.5,"y":28.67,"z":4.12},{"x":55.0,"y":28.67,"z":4.19},{"x":57.5,"y":28.67,"z":4.26},{"x":60.0,"y":28.67,"z":4.33},{"x":62.5,"y":28.67,"z":4.39},{"x":65.0,"y":28.67,"z":4.45},{"x":67.5,"y":28.67,"z":4.51},{"x":70.0,"y":28.67,"z":4.57},{"x":72.5,"y":28.67,"z":4.62},{"x":75.0,"y":28.67,"z":4.67},{"x":77.5,"y":28.67,"z":4.72},{"x":80.0,"y":28.67,"z":4.77},
{"x":45.0,"y":30.0,"z":3.96},{"x":47.5,"y":30.0,"z":4.05},{"x":50.0,"y":30.0,"z":4.13},{"x":52.5,"y":30.0,"z":4.20},{"x":55.0,"y":30.0,"z":4.28},{"x":57.5,"y":30.0,"z":4.34},{"x":60.0,"y":30.0,"z":4.41},{"x":62.5,"y":30.0,"z":4.47},{"x":65.0,"y":30.0,"z":4.53},{"x":67.5,"y":30.0,"z":4.59},{"x":70.0,"y":30.0,"z":4.65},{"x":72.5,"y":30.0,"z":4.70},{"x":75.0,"y":30.0,"z":4.76},{"x":77.5,"y":30.0,"z":4.81},{"x":80.0,"y":30.0,"z":4.86},
{"x":45.0,"y":31.33,"z":4.04},{"x":47.5,"y":31.33,"z":4.13},{"x":50.0,"y":31.33,"z":4.21},{"x":52.5,"y":31.33,"z":4.28},{"x":55.0,"y":31.33,"z":4.35},{"x":57.5,"y":31.33,"z":4.42},{"x":60.0,"y":31.33,"z":4.49},{"x":62.5,"y":31.33,"z":4.55},{"x":65.0,"y":31.33,"z":4.61},{"x":67.5,"y":31.33,"z":4.67},{"x":70.0,"y":31.33,"z":4.73},{"x":72.5,"y":31.33,"z":4.78},{"x":75.0,"y":31.33,"z":4.84},{"x":77.5,"y":31.33,"z":4.89},{"x":80.0,"y":31.33,"z":4.94},
{"x":45.0,"y":32.67,"z":4.12},{"x":47.5,"y":32.67,"z":4.20},{"x":50.0,"y":32.67,"z":4.28},{"x":52.5,"y":32.67,"z":4.36},{"x":55.0,"y":32.67,"z":4.43},{"x":57.5,"y":32.67,"z":4.50},{"x":60.0,"y":32.67,"z":4.57},{"x":62.5,"y":32.67,"z":4.63},{"x":65.0,"y":32.67,"z":4.69},{"x":67.5,"y":32.67,"z":4.75},{"x":70.0,"y":32.67,"z":4.81},{"x":72.5,"y":32.67,"z":4.86},{"x":75.0,"y":32.67,"z":4.91},{"x":77.5,"y":32.67,"z":4.96},{"x":80.0,"y":32.67,"z":5.01},
{"x":45.0,"y":34.0,"z":4.19},{"x":47.5,"y":34.0,"z":4.27},{"x":50.0,"y":34.0,"z":4.35},{"x":52.5,"y":34.0,"z":4.43},{"x":55.0,"y":34.0,"z":4.50},{"x":57.5,"y":34.0,"z":4.57},{"x":60.0,"y":34.0,"z":4.64},{"x":62.5,"y":34.0,"z":4.70},{"x":65.0,"y":34.0,"z":4.76},{"x":67.5,"y":34.0,"z":4.82},{"x":70.0,"y":34.0,"z":4.88},{"x":72.5,"y":34.0,"z":4.93},{"x":75.0,"y":34.0,"z":4.98},{"x":77.5,"y":34.0,"z":5.04},{"x":80.0,"y":34.0,"z":5.08},
{"x":45.0,"y":35.33,"z":4.26},{"x":47.5,"y":35.33,"z":4.34},{"x":50.0,"y":35.33,"z":4.42},{"x":52.5,"y":35.33,"z":4.50},{"x":55.0,"y":35.33,"z":4.57},{"x":57.5,"y":35.33,"z":4.64},{"x":60.0,"y":35.33,"z":4.71},{"x":62.5,"y":35.33,"z":4.77},{"x":65.0,"y":35.33,"z":4.83},{"x":67.5,"y":35.33,"z":4.89},{"x":70.0,"y":35.33,"z":4.95},{"x":72.5,"y":35.33,"z":5.00},{"x":75.0,"y":35.33,"z":5.05},{"x":77.5,"y":35.33,"z":5.10},{"x":80.0,"y":35.33,"z":5.15},
{"x":45.0,"y":36.67,"z":4.33},{"x":47.5,"y":36.67,"z":4.41},{"x":50.0,"y":36.67,"z":4.49},{"x":52.5,"y":36.67,"z":4.57},{"x":55.0,"y":36.67,"z":4.64},{"x":57.5,"y":36.67,"z":4.71},{"x":60.0,"y":36.67,"z":4.77},{"x":62.5,"y":36.67,"z":4.84},{"x":65.0,"y":36.67,"z":4.90},{"x":67.5,"y":36.67,"z":4.96},{"x":70.0,"y":36.67,"z":5.01},{"x":72.5,"y":36.67,"z":5.07},{"x":75.0,"y":36.67,"z":5.12},{"x":77.5,"y":36.67,"z":5.17},{"x":80.0,"y":36.67,"z":5.22},
{"x":45.0,"y":38.0,"z":4.39},{"x":47.5,"y":38.0,"z":4.47},{"x":50.0,"y":38.0,"z":4.55},{"x":52.5,"y":38.0,"z":4.63},{"x":55.0,"y":38.0,"z":4.70},{"x":57.5,"y":38.0,"z":4.77},{"x":60.0,"y":38.0,"z":4.84},{"x":62.5,"y":38.0,"z":4.90},{"x":65.0,"y":38.0,"z":4.96},{"x":67.5,"y":38.0,"z":5.02},{"x":70.0,"y":38.0,"z":5.08},{"x":72.5,"y":38.0,"z":5.13},{"x":75.0,"y":38.0,"z":5.18},{"x":77.5,"y":38.0,"z":5.23},{"x":80.0,"y":38.0,"z":5.28},
{"x":45.0,"y":39.33,"z":4.45},{"x":47.5,"y":39.33,"z":4.53},{"x":50.0,"y":39.33,"z":4.61},{"x":52.5,"y":39.33,"z":4.69},{"x":55.0,"y":39.33,"z":4.76},{"x":57.5,"y":39.33,"z":4.83},{"x":60.0,"y":39.33,"z":4.90},{"x":62.5,"y":39.33,"z":4.96},{"x":65.0,"y":39.33,"z":5.02},{"x":67.5,"y":39.33,"z":5.08},{"x":70.0,"y":39.33,"z":5.14},{"x":72.5,"y":39.33,"z":5.19},{"x":75.0,"y":39.33,"z":5.24},{"x":77.5,"y":39.33,"z":5.29},{"x":80.0,"y":39.33,"z":5.34}
 ],
 "dL": [
{"c":3.5,"x":43.75,"y":24.22},{"c":3.5,"x":46.5,"y":23.4},{"c":3.5,"x":49.05,"y":22.38},{"c":3.5,"x":52,"y":21.2},{"c":3.5,"x":54.67,"y":20},
{"c":4,"x":43.75,"y":31.38},{"c":4,"x":47.5,"y":29.27},{"c":4,"x":51.25,"y":27.47},{"c":4,"x":55,"y":25.92},{"c":4,"x":58.75,"y":24.57},{"c":4,"x":62.5,"y":23.39},{"c":4,"x":66.25,"y":22.34},{"c":4,"x":70,"y":21.4},{"c":4,"x":73.75,"y":20.56},{"c":4,"x":76.5,"y":20},
{"c":4.5,"x":48.08,"y":40},{"c":4.5,"x":50,"y":37.92},{"c":4.5,"x":52.5,"y":35.68},{"c":4.5,"x":55,"y":33.83},{"c":4.5,"x":57.5,"y":32.28},{"c":4.5,"x":60.6,"y":30.68},{"c":4.5,"x":65,"y":28.85},{"c":4.5,"x":70,"y":27.22},{"c":4.5,"x":75,"y":25.93},{"c":4.5,"x":81.25,"y":24.64},
{"c":5,"x":64.1,"y":40},{"c":5,"x":66,"y":38.58},{"c":5,"x":68,"y":37.3},{"c":5,"x":71,"y":35.7},{"c":5,"x":74,"y":34.38},{"c":5,"x":77.5,"y":33.12},{"c":5,"x":81.25,"y":32}
 ],
 "dT": [
{"t":"5","x":70.97,"y":35.71},{"t":"4.5","x":60.6,"y":30.68},{"t":"4","x":57.49,"y":25.0},{"t":"3.5","x":49.05,"y":22.38}
 ],
 "dP": [
{"p":"D","x":37.07,"y":40.4}
 ]
},
"vconcat": [
 {"hconcat": [
  {"width": 431, "height": 428, "title": "ABT mM",
   "encoding": {
    "x": {"field": "x", "type": "quantitative", "scale": {"domain": [0.4, 0.8], "nice": false, "zero": false}, "axis": {"values": [0.4, 0.5, 0.6, 0.7, 0.8], "format": ".2f", "title": "C: TAm (mg/ml)", "tickSize": 11, "labelPadding": 7, "titlePadding": 42}},
    "y": {"field": "y", "type": "quantitative", "scale": {"domain": [0.16, 0.39], "nice": false, "zero": false}, "axis": {"values": [0.16, 0.2175, 0.275, 0.3325, 0.39], "labelExpr": "datum.value < 0.2 ? '0.16' : datum.value < 0.25 ? '0.22' : datum.value < 0.3 ? '0.28' : datum.value < 0.36 ? '0.33' : '0.39'", "title": "D: TK (mg/ml)", "tickSize": 14, "labelPadding": 2, "titlePadding": 14}}
   },
   "layer": [
    {"data": {"name": "aH"}, "mark": {"type": "rect", "width": 22.3, "height": 43.6, "clip": true},
     "encoding": {"color": {"field": "z", "type": "quantitative", "legend": null, "scale": {"domain": [0.3, 0.36, 0.42, 0.5, 0.8, 1.0, 1.2, 1.42, 1.6, 1.75, 1.85], "range": ["#74f2c8", "#68f690", "#5ef84c", "#5cfb1c", "#66ff00", "#7cfe00", "#b4f800", "#fcfc00", "#ffa000", "#ff5a00", "#ff3000"], "interpolate": "rgb"}}}},
    {"data": {"name": "aL"}, "mark": {"type": "line", "color": "#3a3a3a", "strokeWidth": 1, "clip": true}, "encoding": {"detail": {"field": "c"}}},
    {"data": {"name": "aT"}, "transform": [{"filter": "length(datum.t) > 1"}], "mark": {"type": "point", "shape": "M-1,-0.72H1V0.72H-1Z", "size": 784, "filled": true, "fill": "white", "stroke": "#333", "strokeWidth": 1, "opacity": 1}, "encoding": {}},
    {"data": {"name": "aT"}, "transform": [{"filter": "length(datum.t) == 1"}], "mark": {"type": "point", "shape": "M-1,-1.4H1V1.4H-1Z", "size": 225, "filled": true, "fill": "white", "stroke": "#333", "strokeWidth": 1, "opacity": 1}, "encoding": {}},
    {"data": {"name": "aT"}, "mark": {"type": "text", "font": "Liberation Serif", "fontSize": 15, "color": "#2a2a3a", "baseline": "middle", "align": "center", "dy": 1}, "encoding": {"text": {"field": "t"}}},
    {"data": {"name": "aP"}, "mark": {"type": "text", "font": "Liberation Sans", "fontSize": 28, "fontWeight": "bold", "color": "#000", "baseline": "middle", "align": "center"}, "encoding": {"text": {"field": "p"}}}
   ]},
  {"width": 431, "height": 428, "title": "ABT mM",
   "encoding": {
    "x": {"field": "x", "type": "quantitative", "scale": {"domain": [87.5, 162.5], "nice": false, "zero": false}, "axis": {"values": [87.5, 102.5, 117.5, 132.5, 147.5, 162.5], "format": ".2f", "title": "A: Serine (mM)", "tickSize": 11, "labelPadding": 7, "titlePadding": 42}},
    "y": {"field": "y", "type": "quantitative", "scale": {"domain": [40, 80], "nice": false, "zero": false}, "axis": {"values": [40, 48, 56, 64, 72, 80], "format": ".2f", "title": "B: GA (mM)", "tickSize": 14, "labelPadding": 2, "titlePadding": 6}}
   },
   "layer": [
    {"data": {"name": "bH"}, "mark": {"type": "rect", "width": 43.8, "height": 22.0, "clip": true},
     "encoding": {"color": {"field": "z", "type": "quantitative", "legend": null, "scale": {"domain": [1.0, 1.15, 1.3, 1.45, 1.55, 1.65, 1.75, 1.85, 1.92], "range": ["#70e400", "#a0ee00", "#d0f200", "#f4f200", "#ffd000", "#ffa000", "#ff7400", "#ff4c00", "#ff3200"], "interpolate": "rgb"}}}},
    {"data": {"name": "bL"}, "mark": {"type": "line", "color": "#3a3a3a", "strokeWidth": 1, "clip": true, "interpolate": "monotone"}, "encoding": {"detail": {"field": "c"}}},
    {"data": {"name": "bT"}, "mark": {"type": "point", "shape": "M-1,-0.72H1V0.72H-1Z", "size": 784, "filled": true, "fill": "white", "stroke": "#333", "strokeWidth": 1, "opacity": 1}, "encoding": {}},
    {"data": {"name": "bT"}, "mark": {"type": "text", "font": "Liberation Serif", "fontSize": 15, "color": "#2a2a3a", "baseline": "middle", "align": "center", "dy": 1}, "encoding": {"text": {"field": "t"}}},
    {"data": {"name": "bP"}, "mark": {"type": "text", "font": "Liberation Sans", "fontSize": 28, "fontWeight": "bold", "color": "#000", "baseline": "middle", "align": "center"}, "encoding": {"text": {"field": "p"}}}
   ]}
 ], "bounds": "flush", "spacing": 162, "resolve": {"scale": {"x": "independent", "y": "independent", "color": "independent"}}},
 {"hconcat": [
  {"width": 431, "height": 428, "title": {"text": "ABT (mM)", "offset": -8},
   "encoding": {
    "x": {"field": "x", "type": "quantitative", "scale": {"domain": [0.8, 1.6], "nice": false, "zero": false}, "axis": {"values": [0.8, 1.0, 1.2, 1.4, 1.6], "format": ".2f", "title": "C: TAm (mg/ml)", "tickSize": 11, "labelPadding": 7, "titlePadding": 42}},
    "y": {"field": "y", "type": "quantitative", "scale": {"domain": [0.08, 0.19], "nice": false, "zero": false}, "axis": {"values": [0.08, 0.1075, 0.135, 0.1625, 0.19], "labelExpr": "datum.value < 0.09 ? '0.08' : datum.value < 0.12 ? '0.11' : datum.value < 0.15 ? '0.14' : datum.value < 0.18 ? '0.17' : '0.19'", "title": "D: TK (mg/ml)", "tickSize": 14, "labelPadding": 2, "titlePadding": 14}}
   },
   "layer": [
    {"data": {"name": "cH"}, "mark": {"type": "rect", "width": 22.3, "height": 54.2, "clip": true},
     "encoding": {"color": {"field": "z", "type": "quantitative", "legend": null, "scale": {"domain": [2.6, 2.9, 3.2, 3.6, 4.0, 4.4, 4.65, 4.85, 5.05, 5.35], "range": ["#48d800", "#5aee00", "#6cfc00", "#8cfa00", "#c4f400", "#fcf800", "#ffb000", "#ff7800", "#ff4800", "#ff1800"], "interpolate": "rgb"}}}},
    {"data": {"name": "cL"}, "mark": {"type": "line", "color": "#3a3a3a", "strokeWidth": 1, "clip": true, "interpolate": "catmull-rom"}, "encoding": {"detail": {"field": "c"}, "order": {"field": "k", "type": "quantitative"}}},
    {"data": {"name": "cT"}, "mark": {"type": "point", "shape": "M-1,-1.4H1V1.4H-1Z", "size": 225, "filled": true, "fill": "white", "stroke": "#333", "strokeWidth": 1, "opacity": 1}, "encoding": {}},
    {"data": {"name": "cT"}, "mark": {"type": "text", "font": "Liberation Serif", "fontSize": 15, "color": "#2a2a3a", "baseline": "middle", "align": "center", "dy": 1}, "encoding": {"text": {"field": "t"}}},
    {"data": {"name": "cP"}, "mark": {"type": "point", "filled": true, "color": "#e01e1e", "size": 80, "opacity": 1, "clip": false}, "encoding": {}},
    {"data": {"name": "cLet"}, "mark": {"type": "text", "font": "Liberation Sans", "fontSize": 28, "fontWeight": "bold", "color": "#000", "baseline": "middle", "align": "center"}, "encoding": {"text": {"field": "p"}}}
   ]},
  {"width": 431, "height": 428, "title": {"text": "ABT (mM)", "offset": -19},
   "encoding": {
    "x": {"field": "x", "type": "quantitative", "scale": {"domain": [43.75, 81.25], "nice": false, "zero": false}, "axis": {"values": [43.75, 51.25, 58.75, 66.25, 73.75, 81.25], "format": ".2f", "title": "A: Serine (mM)", "tickSize": 11, "labelPadding": 7, "titlePadding": 42}},
    "y": {"field": "y", "type": "quantitative", "scale": {"domain": [20, 40], "nice": false, "zero": false}, "axis": {"values": [20, 25, 30, 35, 40], "format": ".2f", "title": "B: GA (mM)", "tickSize": 14, "labelPadding": 2, "titlePadding": 6}}
   },
   "layer": [
    {"data": {"name": "dH"}, "mark": {"type": "rect", "width": 29.4, "height": 29.2, "clip": true},
     "encoding": {"color": {"field": "z", "type": "quantitative", "legend": null, "scale": {"domain": [3.2, 3.5, 3.8, 4.05, 4.25, 4.5, 4.75, 5.0, 5.35], "range": ["#58e800", "#84ee00", "#b0f000", "#dcf400", "#fcf600", "#ffbc00", "#ff8400", "#ff5000", "#ff1c00"], "interpolate": "rgb"}}}},
    {"data": {"name": "dL"}, "mark": {"type": "line", "color": "#3a3a3a", "strokeWidth": 1, "clip": true, "interpolate": "monotone"}, "encoding": {"detail": {"field": "c"}}},
    {"data": {"name": "dT"}, "transform": [{"filter": "length(datum.t) > 1"}], "mark": {"type": "point", "shape": "M-1,-0.72H1V0.72H-1Z", "size": 784, "filled": true, "fill": "white", "stroke": "#333", "strokeWidth": 1, "opacity": 1}, "encoding": {}},
    {"data": {"name": "dT"}, "transform": [{"filter": "length(datum.t) == 1"}], "mark": {"type": "point", "shape": "M-1,-1.4H1V1.4H-1Z", "size": 225, "filled": true, "fill": "white", "stroke": "#333", "strokeWidth": 1, "opacity": 1}, "encoding": {}},
    {"data": {"name": "dT"}, "mark": {"type": "text", "font": "Liberation Serif", "fontSize": 15, "color": "#2a2a3a", "baseline": "middle", "align": "center", "dy": 1}, "encoding": {"text": {"field": "t"}}},
    {"data": {"name": "dP"}, "mark": {"type": "text", "font": "Liberation Sans", "fontSize": 28, "fontWeight": "bold", "color": "#000", "baseline": "middle", "align": "center"}, "encoding": {"text": {"field": "p"}}}
   ]}
 ], "bounds": "flush", "spacing": 162, "resolve": {"scale": {"x": "independent", "y": "independent", "color": "independent"}}}
]
}
